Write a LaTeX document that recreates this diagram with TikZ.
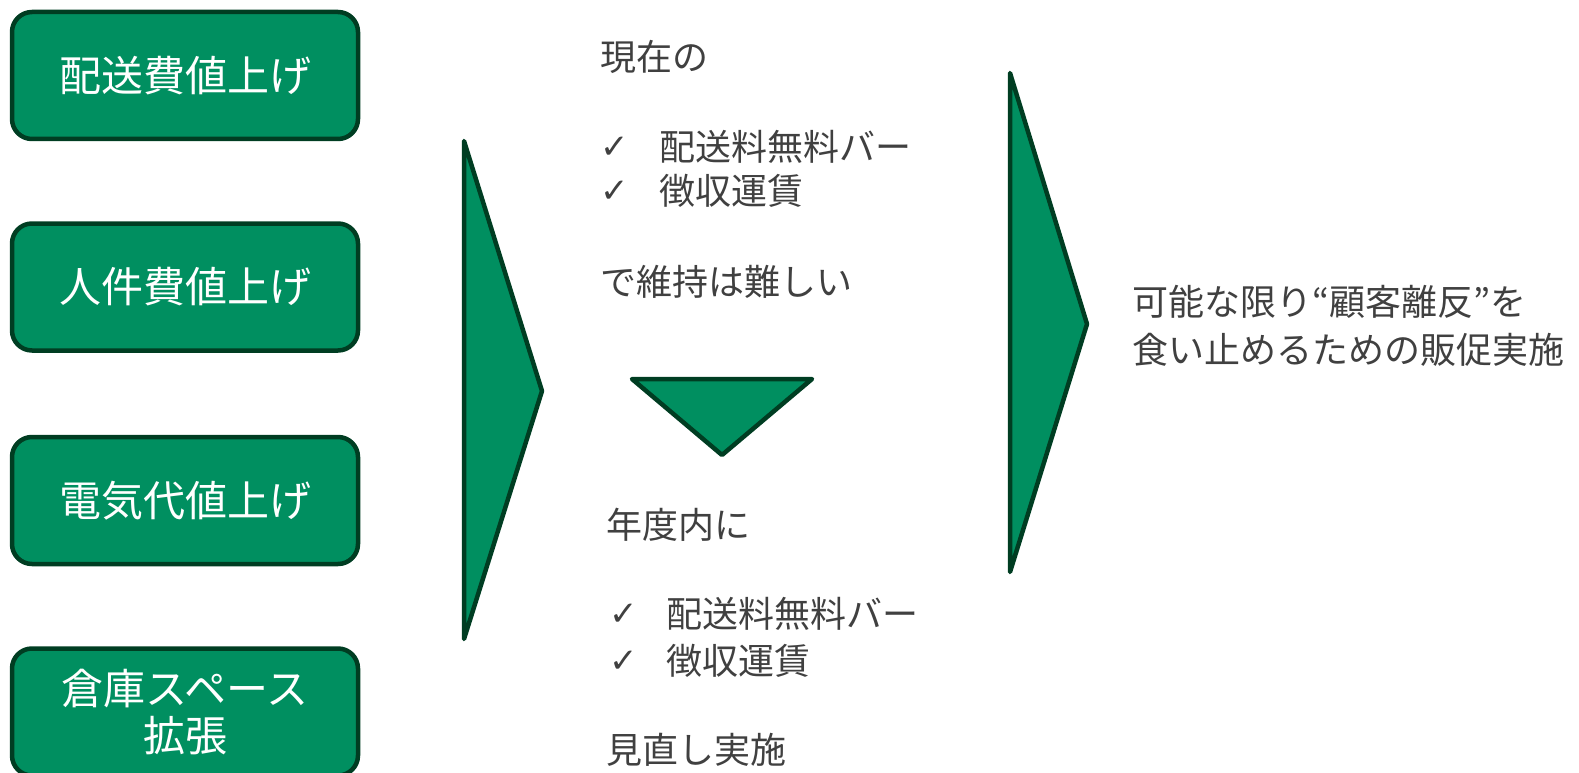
\documentclass[tikz,border=0pt]{standalone}
\usepackage{fontspec}
\setmainfont{Noto Sans CJK JP}
\newfontfamily\symfont{DejaVu Sans}
\definecolor{boxfill}{HTML}{008F60}
\definecolor{boxline}{HTML}{003D22}
\definecolor{txt}{HTML}{404040}
\tikzset{
  greenbox/.style={draw=boxline, fill=boxfill, line width=4.5pt, rounded corners=20pt,
    minimum width=346pt, minimum height=127pt, inner sep=0pt, text=white,
    font=\fontsize{42}{47}\selectfont, align=center},
  greenshape/.style={draw=boxline, fill=boxfill, line width=4.5pt, line join=round},
  label/.style={anchor=west, inner sep=0pt, text=txt, font=\fontsize{36}{48}\selectfont},
  tick/.style={anchor=west, inner sep=0pt, text=txt, font=\symfont\fontsize{34}{40}\selectfont}
}
\begin{document}
\begin{tikzpicture}[x=1pt,y=-1pt]
\useasboundingbox (0,0) rectangle (1579,773);
\clip (0,0) rectangle (1579,773);
% left boxes
\node[greenbox] (b1) at (185,75.5) {配送費値上げ};
\node[greenbox] (b2) at (185,287) {人件費値上げ};
\node[greenbox] (b3) at (185,500.5) {電気代値上げ};
\node[greenbox] (b4) at (185,712) {倉庫スペース\\拡張};
% left chevron
\coordinate (l1) at (464,141);
\coordinate (l2) at (542,391);
\coordinate (l3) at (464,639);
\draw[greenshape] (l1) -- (l2) -- (l3) -- cycle;
% down triangle
\coordinate (d1) at (632,379);
\coordinate (d2) at (812,379);
\coordinate (d3) at (722,455);
\draw[greenshape] (d1) -- (d2) -- (d3) -- cycle;
% right chevron
\coordinate (r1) at (1010,73);
\coordinate (r2) at (1087,324);
\coordinate (r3) at (1010,572);
\draw[greenshape] (r1) -- (r2) -- (r3) -- cycle;
% middle texts
\node[label] (t1) at (600,57) {現在の};
\node[tick] (c1) at (600,148) {✓};
\node[label] (t2) at (659,147) {配送料無料バー};
\node[tick] (c2) at (600,192) {✓};
\node[label] (t3) at (659,191) {徴収運賃};
\node[label] (t4) at (600,282) {で維持は難しい};
\node[label] (t5) at (606,525) {年度内に};
\node[tick] (c3) at (609,615) {✓};
\node[label] (t6) at (666,614) {配送料無料バー};
\node[tick] (c4) at (609,662) {✓};
\node[label] (t7) at (666,661) {徴収運賃};
\node[label] (t8) at (606,750) {見直し実施};
% right text
\node[label] (r5) at (1132,302) {可能な限り“顧客離反”を};
\node[label] (r6) at (1132,350) {食い止めるための販促実施};
\end{tikzpicture}
\end{document}
